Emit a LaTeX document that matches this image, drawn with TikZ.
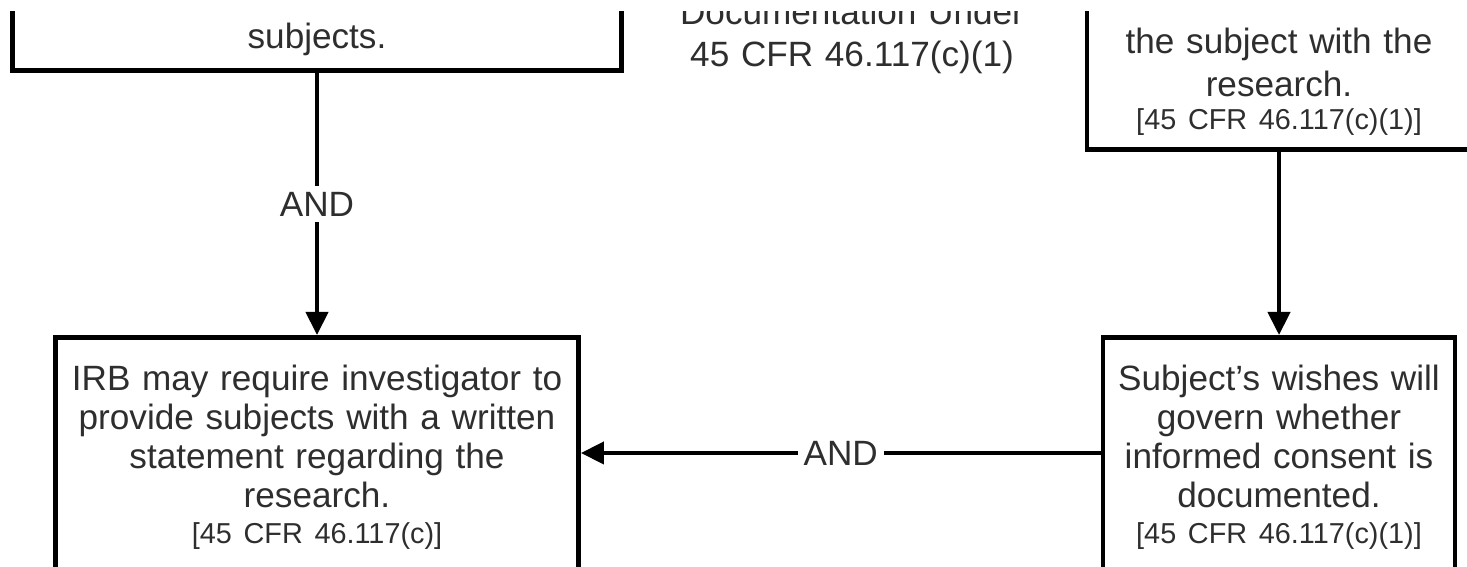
\documentclass[tikz,border=0pt]{standalone}
\usepackage{fontspec}
\setmainfont{Liberation Sans}
\usetikzlibrary{arrows.meta,positioning}
\definecolor{ink}{gray}{0.18}
\tikzset{
  box/.style={draw=black, line width=1.4pt, align=center, inner sep=0pt,
    text=ink, font=\fontsize{10}{11.1}\selectfont},
  flow/.style={line width=1.2pt, -{Triangle[length=0.23cm,width=0.22cm]}},
  tag/.style={fill=white, text=ink, inner sep=0.06cm, font=\fontsize{10}{12}\selectfont}
}
\newcommand{\cfrref}[1]{{\fontsize{8.2}{9}\selectfont[45 CFR #1]}}

\begin{document}
\begin{tikzpicture}
        % Fix the frame of the picture
        \useasboundingbox (0,0) rectangle (14.67,-5.67);
        \clip (0,0) rectangle (14.67,-5.67);

        % Boxes cut off at the top
        \node[box, text width=6.09cm, text height=1cm, text depth=0.22cm, anchor=south]
            (B1) at (3.17,-0.73) {subjects.};
        \node[box, text width=3.84cm, text height=1cm, text depth=0.96cm, anchor=south]
            (B2) at (12.79,-1.52) {the subject with the\\[0.04cm] research.\\[-0.06cm] \cfrref{46.117(c)(1)}};

        % Heading between the top boxes
        \node[text=ink, align=center, text width=4.5cm, font=\fontsize{10}{11.1}\selectfont, anchor=base]
            (M) at (8.52,-0.25) {Documentation Under\\[0.03cm] 45 CFR 46.117(c)(1)};

        % Boxes cut off at the bottom
        \node[box, text width=5.23cm, text height=0.53cm, text depth=3cm, anchor=north]
            (B3) at (3.17,-3.35) {IRB may require investigator to\\ provide subjects with a written\\
            statement regarding the\\ research.\\[-0.03cm] \cfrref{46.117(c)}};
        \node[box, text width=3.52cm, text height=0.53cm, text depth=3cm, anchor=north]
            (B4) at (12.79,-3.35) {Subject’s wishes will\\ govern whether\\ informed consent is\\
            documented.\\[-0.03cm] \cfrref{46.117(c)(1)}};

        % Height of the horizontal connector
        \coordinate (Y) at (0,-4.53);

        % Draw the connectors
        \draw[flow] (B1.south) -- (B3.north) node[tag, midway] (L1) {AND};
        \draw[flow] (B2.south) -- (B4.north);
        \draw[flow] (B4.west |- Y) -- (B3.east |- Y) node[tag, midway] (L2) {AND};

        % White strip along the top edge
        \fill[white] (0,0) rectangle (14.67,-0.115);
    \end{tikzpicture}
\end{document}
